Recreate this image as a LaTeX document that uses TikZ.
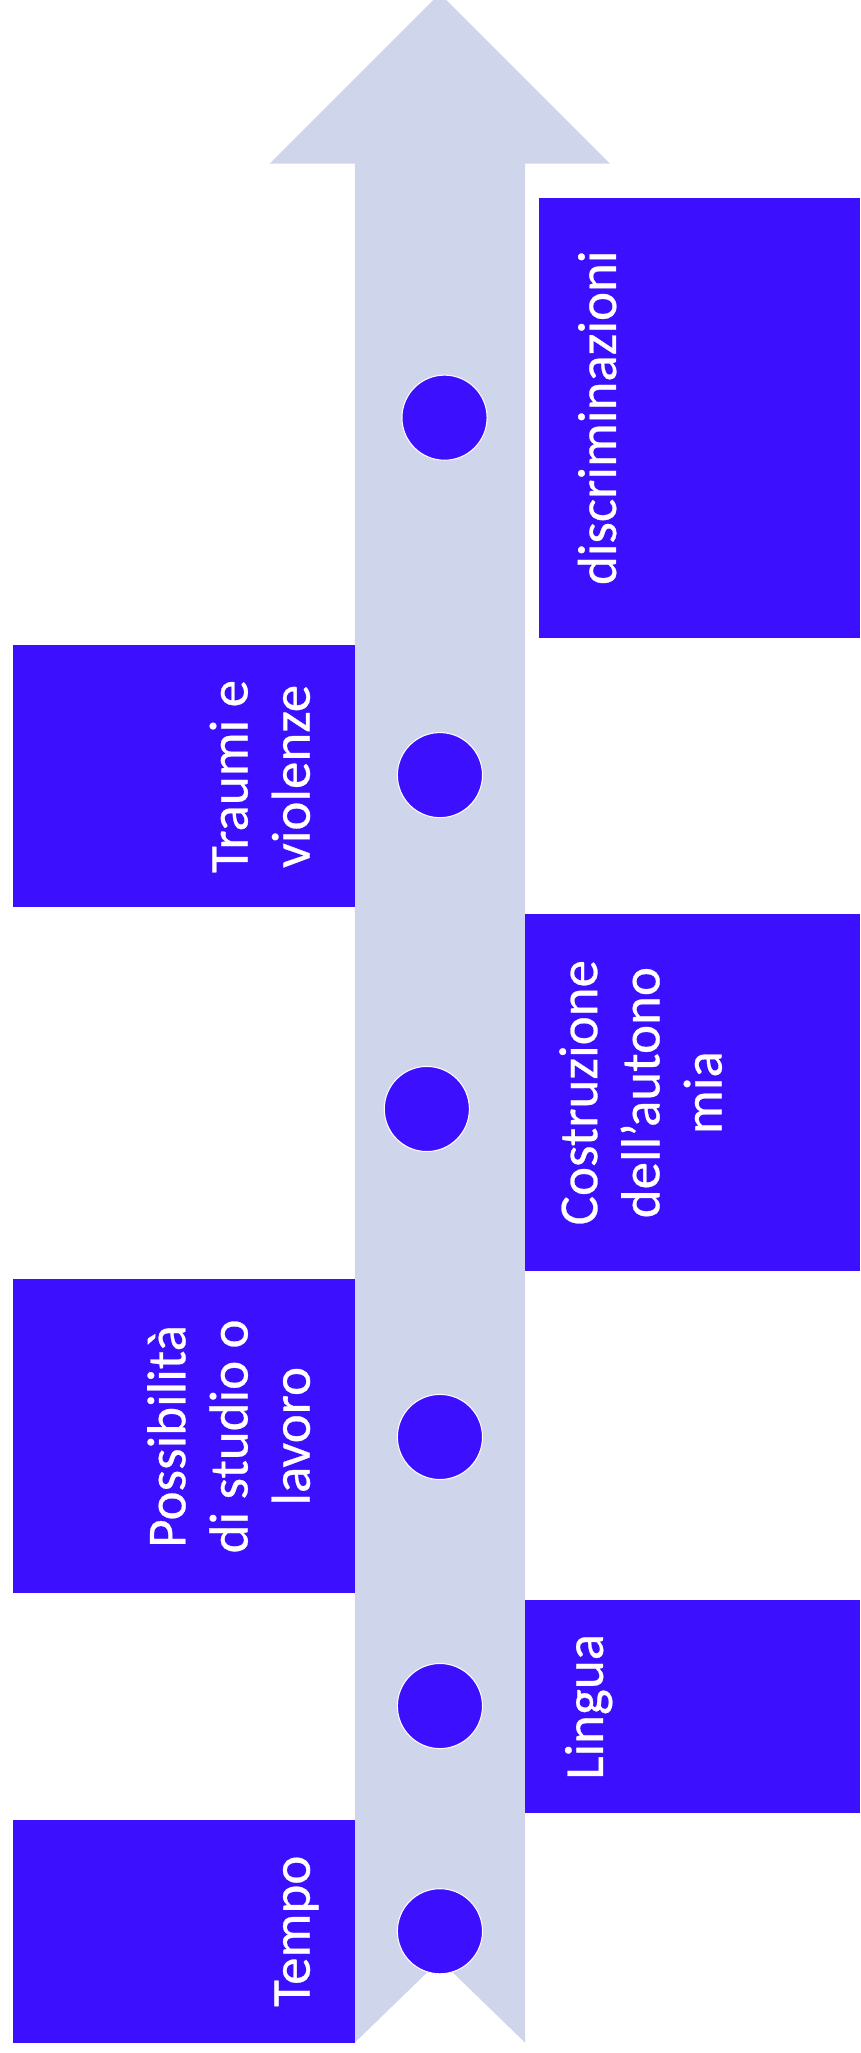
\documentclass[tikz,border=0pt]{standalone}
\usepackage{fontspec}
\setmainfont{Carlito}
\newfontfamily\boxfont[FakeBold=0.5]{Carlito}
\definecolor{boxblue}{RGB}{61,15,255}
\definecolor{arrowgray}{RGB}{207,213,234}
\begin{document}
\begin{tikzpicture}[scale=0.35146]
\tikzstyle{every node}+=[inner sep=0pt]
\tikzstyle{boxtext}=[text=white, rotate=90, align=center, font=\boxfont\fontsize{42}{47.5}\selectfont, execute at begin node=\strut, execute at end node=\strut]
\tikzstyle{dot}=[circle, fill=boxblue, draw=white, line width=0.8pt, minimum size=65pt]
\useasboundingbox (0,0) rectangle (65.7,-156.8);
% the arrow
\fill [arrowgray] (33.6,0.5) -- (46.6,-12.5) -- (40.1,-12.5) -- (40.1,-156.0) -- (33.6,-149.7) -- (27.1,-156.0) -- (27.1,-12.5) -- (20.6,-12.5) -- cycle;
% right boxes
\fill [boxblue] (41.2,-15.1) rectangle (65.7,-48.7);
\node [boxtext, anchor=north] (discr) at (43.7,-31.9) {discriminazioni};
\fill [boxblue] (40.1,-69.8) rectangle (65.7,-97.1);
\node [boxtext, anchor=north] (autonomia) at (42.7,-83.45) {Costruzione\\dell’autono\\mia};
\fill [boxblue] (40.1,-122.2) rectangle (65.7,-138.5);
\node [boxtext, anchor=north] (lingua) at (42.7,-130.35) {Lingua};
% left boxes
\fill [boxblue] (1.0,-49.3) rectangle (27.1,-69.3);
\node [boxtext, anchor=south] (traumi) at (25.1,-59.3) {Traumi e\\violenze};
\fill [boxblue] (1.0,-97.7) rectangle (27.1,-121.7);
\node [boxtext, anchor=south] (studio) at (25.1,-109.7) {Possibilità\\di studio o\\lavoro};
\fill [boxblue] (1.0,-139.0) rectangle (27.1,-156.0);
\node [boxtext, anchor=south] (tempo) at (25.1,-147.5) {Tempo};
% dots on the arrow
\node [dot] (d1) at (33.95,-31.9) {};
\node [dot] (d2) at (33.6,-59.2) {};
\node [dot] (d3) at (32.6,-84.7) {};
\node [dot] (d4) at (33.6,-109.75) {};
\node [dot] (d5) at (33.6,-130.3) {};
\node [dot] (d6) at (33.6,-147.5) {};
\end{tikzpicture}
\end{document}
